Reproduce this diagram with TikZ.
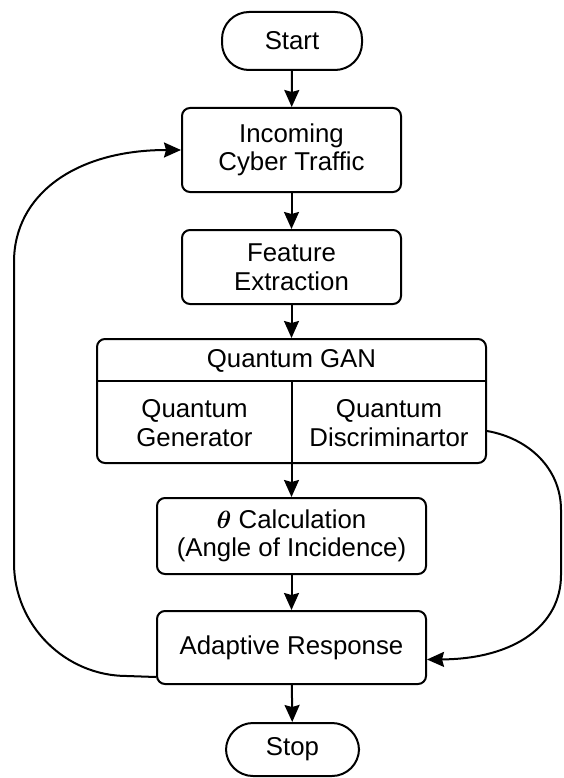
\documentclass[tikz,border=0pt]{standalone}
\usepackage{fontspec}
\setmainfont{Liberation Sans}
\usetikzlibrary{arrows.meta}
\begin{document}
\begin{tikzpicture}[x=1pt,y=-1pt,
  txt/.style={font=\fontsize{25.8}{28.5}\selectfont, align=center, inner sep=0pt},
  box/.style={txt, draw, line width=2pt, rounded corners=8pt},
  term/.style={txt, draw, line width=2pt, rounded corners=27pt},
  arr/.style={line width=2pt, -{Stealth[length=17pt,width=15pt,inset=2pt]}},
  ln/.style={line width=2pt}]
\useasboundingbox (0,0) rectangle (563,778);
\fill[white] (0,0) rectangle (563,778);
\node[term, minimum width=140pt, minimum height=58pt] (start) at (292,41) {Start};
\node[box, minimum width=219pt, minimum height=84pt] (inc) at (291.5,150) {Incoming\\Cyber Traffic};
\node[box, minimum width=219pt, minimum height=74pt] (feat) at (291.5,267) {Feature\\Extraction};
\node[box, minimum width=389pt, minimum height=124pt] (qgan) at (291.5,401) {};
\node[txt] (qtitle) at (291.5,360.5) {Quantum GAN};
\node[txt] (gen) at (194.5,423) {Quantum\\Generator};
\node[txt] (disc) at (389,423) {Quantum\\Discriminartor};
\draw[ln] ([yshift=-43pt]qgan.north west) -- ([yshift=-43pt]qgan.north east);
\draw[ln] ([yshift=-43pt]qgan.north) -- (qgan.south);
\node[box, minimum width=269pt, minimum height=76pt] (theta) at (291.5,536) {{\boldmath$\theta$} Calculation\\(Angle of Incidence)};
\node[box, minimum width=269pt, minimum height=73pt] (ar) at (291.5,647.5) {Adaptive Response};
\node[term, minimum width=133pt, minimum height=53pt] (stop) at (292.5,749.5) {Stop};
\draw[arr] (start) -- (inc);
\draw[arr] (inc) -- (feat);
\draw[arr] (feat) -- (qgan);
\draw[arr] (qgan.south) -- (theta.north);
\draw[arr] (theta) -- (ar);
\draw[arr] (ar) -- (stop);
\coordinate (lb) at ([yshift=8pt]ar.south west);
\coordinate (rs) at ([yshift=-30pt]qgan.east);
\coordinate (re) at ([yshift=-12pt]ar.east);
\draw[arr] (lb) -- (127,676) .. controls (65,676) and (14,625) .. (14,563) -- (14,262) .. controls (14,195) and (75,150) .. (inc.west);
\draw[arr] (rs) .. controls (528,438) and (561,468) .. (561,510) -- (561,575) .. controls (561,625) and (515,659) .. (re);
\end{tikzpicture}
\end{document}
